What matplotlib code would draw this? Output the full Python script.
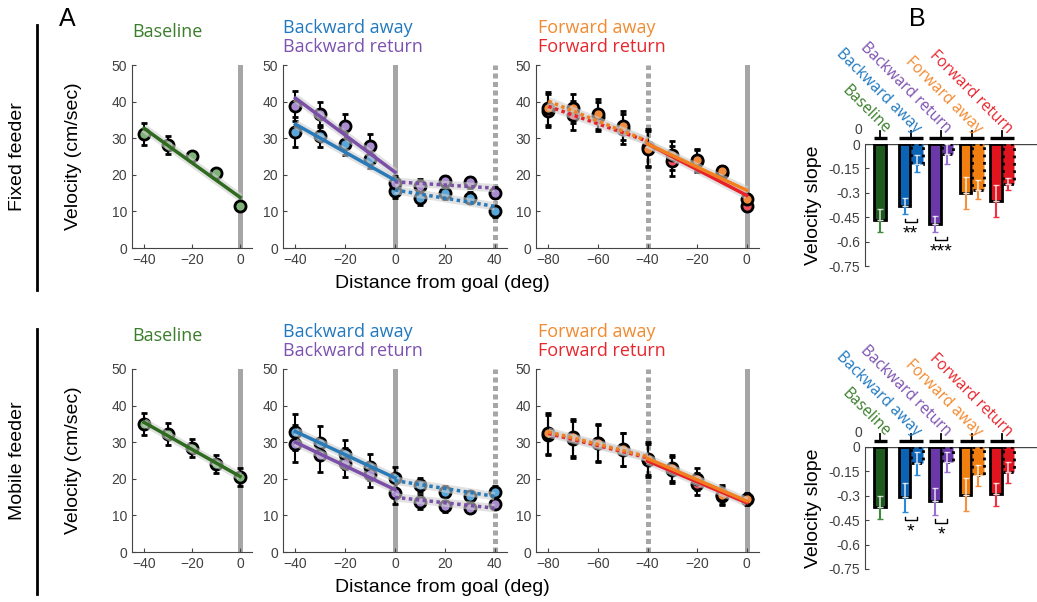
import matplotlib.pyplot as plt
import numpy as np

plt.rcParams['font.family'] = 'Liberation Sans'

W, H = 1037, 602

# distance from goal (deg)
dist_base = [-40, -30, -20, -10, 0]
dist_back = [-40, -30, -20, -10, 0, 10, 20, 30, 40]
dist_fwd = [-80, -70, -60, -50, -40, -30, -20, -10, 0]

# fixed feeder velocities (cm/sec)
fixed_base = [31.1, 28.2, 25.2, 20.5, 11.4]
fixed_base_err = [3.0, 2.5, 1.0, 1.0, 1.0]
fixed_back_away = [31.7, 30.6, 28.5, 24.4, 15.7, 13.7, 14.9, 13.7, 10.1]
fixed_back_away_err = [4.0, 3.0, 3.0, 2.5, 2.0, 2.0, 1.5, 1.5, 1.5]
fixed_back_return = [38.8, 36.5, 33.2, 27.9, 17.8, 16.9, 18.3, 18.0, 15.1]
fixed_back_return_err = [4.0, 3.5, 3.4, 3.2, 2.0, 2.0, 1.5, 1.5, 1.5]
fixed_fwd_away = [38.2, 38.2, 36.6, 33.4, 27.0, 25.3, 24.0, 21.0, 13.3]
fixed_fwd_away_err = [4.5, 4.0, 4.0, 4.0, 5.0, 4.0, 3.0, 1.5, 1.5]
fixed_fwd_return = [37.5, 36.3, 35.9, 32.5, 27.5, 23.8, 23.8, 20.6, 11.5]
fixed_fwd_return_err = [4.5, 4.0, 4.0, 4.0, 5.0, 4.0, 3.0, 1.5, 1.5]

# mobile feeder velocities (cm/sec)
mobile_base = [34.9, 32.2, 28.5, 24.1, 20.5]
mobile_base_err = [3.0, 3.0, 2.5, 2.5, 2.5]
mobile_back_away = [32.8, 29.9, 26.7, 23.2, 20.3, 18.3, 16.4, 15.4, 16.4]
mobile_back_away_err = [5.0, 4.5, 4.0, 3.5, 3.0, 2.0, 1.5, 1.0, 1.5]
mobile_back_return = [29.6, 26.4, 24.4, 21.2, 16.0, 13.7, 12.5, 11.9, 13.2]
mobile_back_return_err = [5.0, 4.5, 4.0, 3.5, 3.0, 2.0, 1.5, 1.0, 1.5]
mobile_fwd_away = [32.4, 31.3, 29.9, 28.1, 25.5, 22.9, 20.0, 15.7, 14.6]
mobile_fwd_away_err = [5.5, 5.0, 5.0, 4.5, 4.5, 3.5, 3.0, 2.5, 1.5]
mobile_fwd_return = [31.9, 30.8, 29.7, 27.9, 25.1, 22.4, 18.7, 15.3, 14.4]
mobile_fwd_return_err = [5.5, 5.0, 5.0, 4.5, 4.5, 3.5, 3.0, 2.5, 1.5]

# velocity slopes (panel B); solid = toward goal, dotted = past goal
slope_groups = ["Baseline", "Backward away", "Backward return", "Forward away", "Forward return"]
fixed_slope = [-0.47, -0.38, -0.49, -0.30, -0.35]
fixed_slope_err = [0.07, 0.05, 0.05, 0.10, 0.10]
fixed_slope_dot = [np.nan, -0.12, -0.06, -0.28, -0.245]
fixed_slope_dot_err = [np.nan, 0.055, 0.06, 0.06, 0.035]
fixed_stars = {1: "**", 2: "***"}
mobile_slope = [-0.37, -0.31, -0.335, -0.293, -0.29]
mobile_slope_err = [0.07, 0.09, 0.08, 0.10, 0.07]
mobile_slope_dot = [np.nan, -0.10, -0.093, -0.175, -0.155]
mobile_slope_dot_err = [np.nan, 0.07, 0.06, 0.065, 0.065]
mobile_stars = {1: "*", 2: "*"}

txt_col = ['#3a7d2a', '#2079c0', '#7d52b0', '#f28a30', '#e8262e']
line_col = ['#2e6b1e', '#2a7ab8', '#7b4fa8', '#f08020', '#e8202a']
face_col = ['#7fb37a', '#5aa5d8', '#a98bd0', '#f08a3c', '#f05060']
bar_col = ['#1e5a1e', '#0b63b5', '#6a38a8', '#f07f10', '#e0141e']
err_col = ['#3c8c3c', '#2a8ad8', '#9a70d0', '#f59040', '#f03040']
GRAY = '#a6a6a6'
AXC = '#444444'
TKC = '#404040'


def fax(x0, y0, x1, y1):
    return [x0 / W, 1 - y1 / H, (x1 - x0) / W, (y1 - y0) / H]


def style_line_ax(ax, xlim, xticks):
    ax.set_xlim(*xlim)
    ax.set_ylim(0, 50)
    ax.set_xticks(xticks)
    ax.set_yticks([0, 10, 20, 30, 40, 50])
    for s in ['top', 'right']:
        ax.spines[s].set_visible(False)
    for s in ['left', 'bottom']:
        ax.spines[s].set_color(AXC)
    ax.tick_params(direction='in', length=3, labelsize=10, colors=AXC, labelcolor=TKC)


def draw_series(ax, x, y, err, ci, segs):
    x = np.array(x)
    y = np.array(y)
    ax.errorbar(x, y, yerr=err, fmt='o', ms=8, mfc=face_col[ci], mec='black', mew=2,
                ecolor='black', elinewidth=1.5, capsize=2.5, capthick=1.5, zorder=3)
    for lo, hi, ls in segs:
        m = (x >= lo) & (x <= hi)
        k, b = np.polyfit(x[m], y[m], 1)
        xx = np.array([lo, hi])
        ax.plot(xx, k * xx + b, color='#d0d0d0', lw=6, alpha=0.6, solid_capstyle='butt', zorder=4)
        ax.plot(xx, k * xx + b, color=line_col[ci], lw=2.5, ls=ls, zorder=5)


DOT = (0, (1, 1))
GDOT = (0, (1, 0.7))


def slope_panel(ax, solid, solid_err, dot, dot_err, stars):
    g = np.arange(1, 6)
    xs = np.where(np.isnan(dot), g, g - 0.2)
    ax.bar(xs, solid, width=0.38, color=bar_col, edgecolor='black', lw=2, zorder=2)
    ax.bar(g[1:] + 0.2, dot[1:], width=0.38, color=bar_col[1:], edgecolor='black', lw=2,
           ls=':', zorder=2)
    for i in range(5):
        pairs = [(xs[i], solid[i], solid_err[i])]
        if not np.isnan(dot[i]):
            pairs.append((g[i] + 0.2, dot[i], dot_err[i]))
        for xv, v, e in pairs:
            ax.errorbar(xv, v, yerr=[[e], [0]], color=err_col[i], lw=1.5, capsize=2.5, zorder=3)
            ax.errorbar(xv, v, yerr=[[0], [e]], color='white', lw=1.2, capsize=2, alpha=0.75, zorder=3)
        # group marker on top
        hw = 0.21 if np.isnan(dot[i]) else 0.4
        ax.plot([g[i] - hw, g[i] + hw], [0.037, 0.037], color='black', lw=2.4, clip_on=False,
                solid_capstyle='butt')
        ax.plot([g[i], g[i]], [0.037, 0.08], color='black', lw=1.3, clip_on=False)
        ax.text(g[i] + 0.24, 0.08, slope_groups[i], color=txt_col[i], rotation=-45,
                rotation_mode='anchor', ha='right', va='center', fontsize=11.2,
                family='Open Sans', clip_on=False)
    for i, s in stars.items():
        lowest = min(solid[i] - solid_err[i], dot[i] - dot_err[i])
        top = lowest - 0.03
        x1, x2 = g[i] - 0.2, g[i] + 0.2
        ax.plot([x1, x1, x2, x2], [top, top - 0.02, top - 0.02, top], color='black', lw=1)
        ax.text(g[i], top - 0.095, s, ha='center', va='center', fontsize=14)
    ax.axhline(0, color=AXC, lw=1, zorder=1)
    ax.text(0.41, 0.086, '0', ha='right', va='center', fontsize=10, color=TKC, clip_on=False)
    ax.set_xlim(0.5, 6.14)
    ax.set_ylim(-0.75, 0)
    ax.set_yticks([0, -0.15, -0.3, -0.45, -0.6, -0.75])
    ax.set_yticklabels(['0', '-0.15', '-0.3', '-0.45', '-0.6', '-0.75'])
    ax.set_xticks([])
    for s in ['top', 'right', 'bottom']:
        ax.spines[s].set_visible(False)
    ax.spines['left'].set_color(AXC)
    ax.tick_params(direction='in', length=3, labelsize=10, colors=AXC, labelcolor=TKC)
    ax.set_ylabel('Velocity slope', fontsize=14)
    ax.yaxis.set_label_coords(-0.25, 0.5)


fig = plt.figure(figsize=(W / 100, H / 100), dpi=100)

rows = [
    (0, fixed_base, fixed_base_err, fixed_back_away, fixed_back_away_err,
     fixed_back_return, fixed_back_return_err, fixed_fwd_away, fixed_fwd_away_err,
     fixed_fwd_return, fixed_fwd_return_err, fixed_slope, fixed_slope_err,
     fixed_slope_dot, fixed_slope_dot_err, fixed_stars, 'Fixed feeder'),
    (1, mobile_base, mobile_base_err, mobile_back_away, mobile_back_away_err,
     mobile_back_return, mobile_back_return_err, mobile_fwd_away, mobile_fwd_away_err,
     mobile_fwd_return, mobile_fwd_return_err, mobile_slope, mobile_slope_err,
     mobile_slope_dot, mobile_slope_dot_err, mobile_stars, 'Mobile feeder'),
]

for (r, base, base_e, ba, ba_e, br, br_e, fa, fa_e, fr, fr_e,
     sl, sl_e, sd, sd_e, stars, rowname) in rows:
    oy = 0 if r == 0 else 304
    top, bot = 65 + oy, 248 + oy

    ax1 = fig.add_axes(fax(132, top, 252, bot))
    ax1.axvline(0, color=GRAY, lw=3.6, zorder=1)
    draw_series(ax1, dist_base, base, base_e, 0, [(-40, 0, '-')])
    style_line_ax(ax1, (-45, 5), [-40, -20, 0])
    ax1.set_ylabel('Velocity (cm/sec)', fontsize=14)
    ax1.yaxis.set_label_coords(-0.42, 0.5)

    ax2 = fig.add_axes(fax(283, top, 507, bot))
    ax2.axvline(0, color=GRAY, lw=3.6, zorder=1)
    ax2.axvline(40, color=GRAY, lw=3.6, ls=GDOT, zorder=1)
    draw_series(ax2, dist_back, ba, ba_e, 1, [(-40, 0, '-'), (0, 40, DOT)])
    draw_series(ax2, dist_back, br, br_e, 2, [(-40, 0, '-'), (0, 40, DOT)])
    style_line_ax(ax2, (-45, 45), [-40, -20, 0, 20, 40])

    ax3 = fig.add_axes(fax(536, top, 759, bot))
    ax3.axvline(0, color=GRAY, lw=3.6, zorder=1)
    ax3.axvline(-40, color=GRAY, lw=3.6, ls=GDOT, zorder=1)
    draw_series(ax3, dist_fwd, fr, fr_e, 4, [(-80, -40, DOT), (-40, 0, '-')])
    draw_series(ax3, dist_fwd, fa, fa_e, 3, [(-80, -40, DOT), (-40, 0, '-')])
    style_line_ax(ax3, (-85, 5), [-80, -60, -40, -20, 0])

    boy = 0 if r == 0 else 303
    axb = fig.add_axes(fax(865, 144 + boy, 1037, 266 + boy))
    slope_panel(axb, np.array(sl), np.array(sl_e), np.array(sd), np.array(sd_e), stars)

    # titles
    tf = dict(fontsize=13, family='Open Sans', va='center')
    fig.text(167 / W, 1 - (32 + oy) / H, 'Baseline', color=txt_col[0], ha='center', **tf)
    fig.text(283 / W, 1 - (28 + oy) / H, 'Backward away', color=txt_col[1], ha='left', **tf)
    fig.text(283 / W, 1 - (47 + oy) / H, 'Backward return', color=txt_col[2], ha='left', **tf)
    fig.text(538 / W, 1 - (28 + oy) / H, 'Forward away', color=txt_col[3], ha='left', **tf)
    fig.text(538 / W, 1 - (47 + oy) / H, 'Forward return', color=txt_col[4], ha='left', **tf)
    fig.text(442 / W, 1 - (283 + oy) / H, 'Distance from goal (deg)', fontsize=14,
             ha='center', va='center')

    # row label with bar
    fig.text(18 / W, 1 - (157 + oy) / H, rowname, rotation=90, fontsize=14,
             ha='center', va='center')
    fig.add_artist(plt.Line2D([37 / W, 37 / W], [1 - (25 + oy) / H, 1 - (290 + oy) / H],
                              color='black', lw=2))

fig.text(67 / W, 1 - 19 / H, 'A', fontsize=18, ha='center', va='center')
fig.text(917 / W, 1 - 19 / H, 'B', fontsize=18, ha='center', va='center')

fig.savefig('out.png', dpi=100)
